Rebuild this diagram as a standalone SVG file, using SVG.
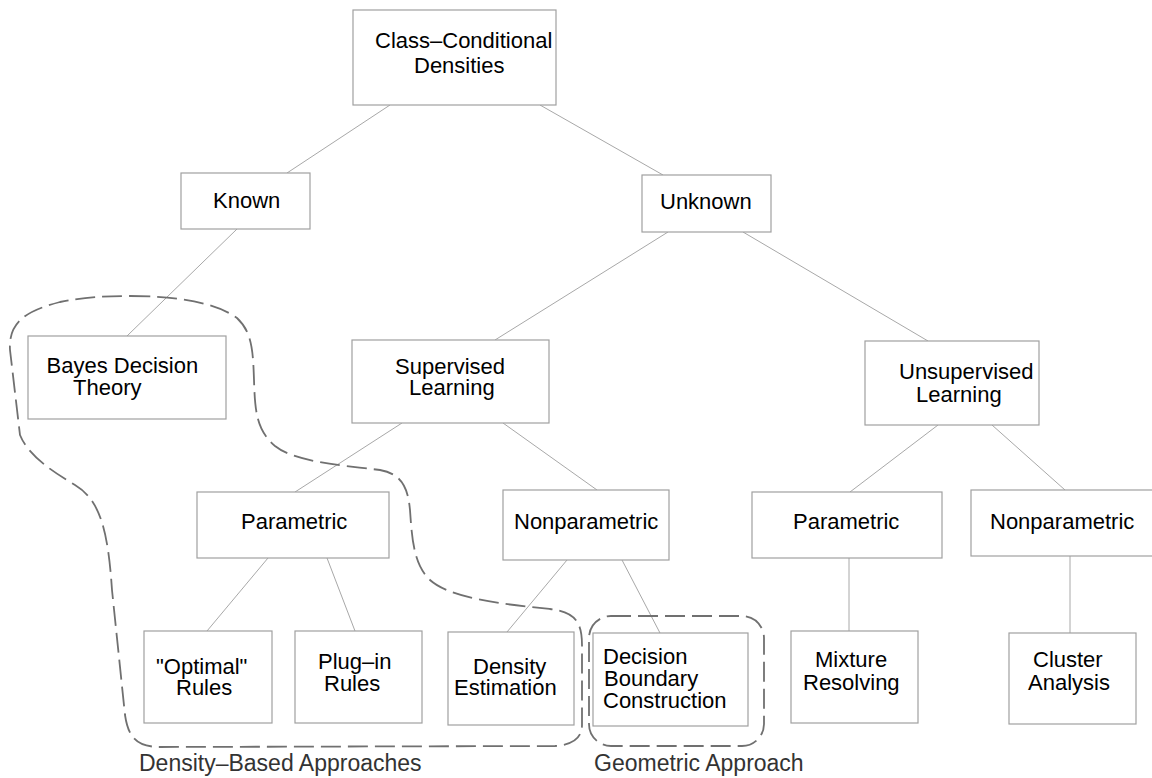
<svg xmlns="http://www.w3.org/2000/svg" width="1152" height="778" viewBox="0 0 1152 778">
<style>
.box{fill:#fff;stroke:#a0a0a0;stroke-width:1.2}
.t{font-family:"Liberation Sans",Arial,Helvetica,sans-serif;font-size:22px;fill:#000}
.lbl{font-family:"Liberation Sans",Arial,Helvetica,sans-serif;font-size:23px;fill:#333}
.c{stroke:#a8a8a8;stroke-width:1;fill:none}
.d{stroke:#707070;stroke-width:1.8;fill:none;stroke-dasharray:20 7}
</style>
<rect width="1152" height="778" fill="#fff"/>
<g id="connectors">
<line class="c" x1="390" y1="105" x2="287" y2="173"/>
<line class="c" x1="540" y1="105" x2="663" y2="175"/>
<line class="c" x1="237" y1="229" x2="127" y2="336"/>
<line class="c" x1="668" y1="232" x2="495" y2="340"/>
<line class="c" x1="743" y1="232" x2="928" y2="341"/>
<line class="c" x1="402" y1="423" x2="295" y2="492"/>
<line class="c" x1="503" y1="423" x2="597" y2="490"/>
<line class="c" x1="268" y1="558" x2="207" y2="631"/>
<line class="c" x1="327" y1="558" x2="355" y2="631"/>
<line class="c" x1="567" y1="560" x2="507" y2="632"/>
<line class="c" x1="622" y1="560" x2="660" y2="633"/>
<line class="c" x1="938" y1="425" x2="850" y2="492"/>
<line class="c" x1="992" y1="425" x2="1065" y2="490"/>
<line class="c" x1="849" y1="558" x2="849" y2="631"/>
<line class="c" x1="1070" y1="556" x2="1070" y2="633"/>
</g>
<g id="n-root"><rect class="box" x="353" y="10" width="203" height="95"/>
<text class="t" x="375" y="47.5">Class–Conditional</text><text class="t" x="414" y="73">Densities</text></g>
<g id="n-known"><rect class="box" x="181" y="173" width="129" height="56"/>
<text class="t" x="213" y="208">Known</text></g>
<g id="n-unknown"><rect class="box" x="642" y="175" width="129" height="57"/>
<text class="t" x="660" y="209">Unknown</text></g>
<g id="n-bayes"><rect class="box" x="28" y="336" width="198" height="83"/>
<text class="t" x="46.5" y="372.5">Bayes Decision</text><text class="t" x="73" y="395">Theory</text></g>
<g id="n-supervised"><rect class="box" x="352" y="340" width="197" height="83"/>
<text class="t" x="395" y="373.5">Supervised</text><text class="t" x="409" y="395">Learning</text></g>
<g id="n-unsupervised"><rect class="box" x="865" y="341" width="174" height="84"/>
<text class="t" x="899" y="378.5">Unsupervised</text><text class="t" x="916" y="401.5">Learning</text></g>
<g id="n-param-sup"><rect class="box" x="197" y="492" width="192" height="66"/>
<text class="t" x="241" y="528.5">Parametric</text></g>
<g id="n-nonparam-sup"><rect class="box" x="503" y="490" width="166" height="70"/>
<text class="t" x="514" y="529">Nonparametric</text></g>
<g id="n-param-unsup"><rect class="box" x="752" y="492" width="190" height="66"/>
<text class="t" x="793" y="528.5">Parametric</text></g>
<g id="n-nonparam-unsup"><rect class="box" x="971" y="490" width="196" height="66"/>
<text class="t" x="990" y="528.5">Nonparametric</text></g>
<g id="n-optimal"><rect class="box" x="144" y="631" width="128" height="92"/>
<text class="t" x="156" y="674">"Optimal"</text><text class="t" x="176" y="694.5">Rules</text></g>
<g id="n-plugin"><rect class="box" x="295" y="631" width="127" height="92"/>
<text class="t" x="318" y="668.5">Plug–in</text><text class="t" x="324" y="690.5">Rules</text></g>
<g id="n-density-est"><rect class="box" x="448" y="632" width="126" height="93"/>
<text class="t" x="473" y="674">Density</text><text class="t" x="454" y="695">Estimation</text></g>
<g id="n-decision"><rect class="box" x="593" y="633" width="155" height="93"/>
<text class="t" x="603" y="663.5">Decision</text><text class="t" x="604" y="685.5">Boundary</text><text class="t" x="603" y="707.5">Construction</text></g>
<g id="n-mixture"><rect class="box" x="791" y="631" width="127" height="92"/>
<text class="t" x="815" y="667">Mixture</text><text class="t" x="803" y="690">Resolving</text></g>
<g id="n-cluster"><rect class="box" x="1009" y="633" width="127" height="91"/>
<text class="t" x="1033" y="667">Cluster</text><text class="t" x="1028" y="690">Analysis</text></g>
<g id="groups">
<path class="d" d="M130,296 C175,296 215,302 237,318 C252,332 253,350 254,380 C255,410 256,430 275,446 C295,462 340,465 380,470 C402,474 408,488 410,510 C412,540 414,565 430,580 C450,598 500,604 550,609 C575,612 582,622 582,645 L582,725 C582,740 570,745 555,746 L160,747 C135,747 128,735 125,715 L112,590 C108,530 100,500 75,485 C50,470 28,455 20,435 L10,350 C8,320 30,310 60,302 C85,297 105,296 130,296 Z"/>
<rect class="d" x="589" y="616" width="175" height="130" rx="22" ry="22"/>
<text class="lbl" x="139" y="771">Density–Based Approaches</text>
<text class="lbl" x="594" y="771">Geometric Approach</text>
</g>
</svg>
